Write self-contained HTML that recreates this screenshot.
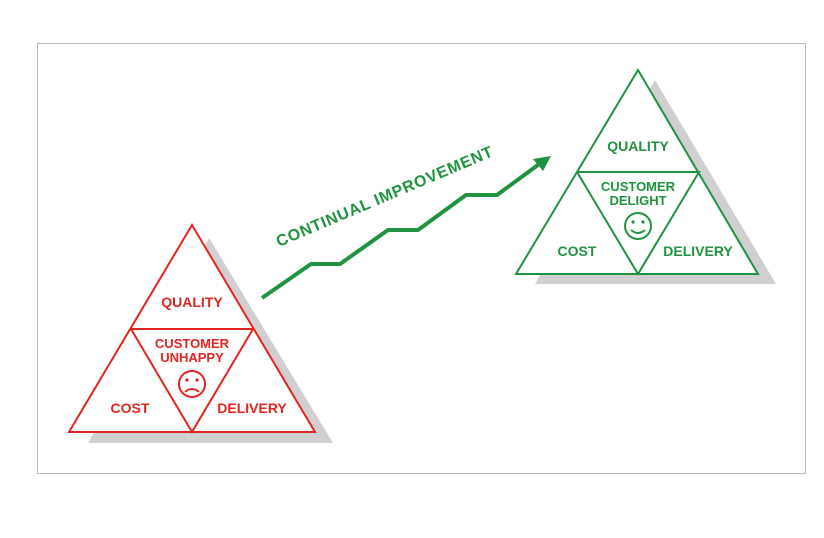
<!DOCTYPE html>
<html><head><style>body{margin:0;background:#fff}</style></head><body>
<svg width="824" height="533" xmlns="http://www.w3.org/2000/svg" font-family="Liberation Sans, sans-serif" font-weight="bold">
<rect x="37.5" y="43.5" width="768" height="430" fill="#fff" stroke="#bbb" stroke-width="1"/>
<polygon points="209,238 333,443 88,443" fill="#d0d0d0"/>
<polygon points="192,225 315,432 69,432" fill="#fff" stroke="#e52420" stroke-width="2"/>
<polyline points="131,329 253,329 192,432 131,329" fill="none" stroke="#e52420" stroke-width="2"/>
<g fill="#e52420" text-anchor="middle" font-size="14">
<text x="192" y="307">QUALITY</text>
<text x="192" y="348" font-size="13">CUSTOMER</text>
<text x="192" y="362" font-size="13">UNHAPPY</text>
<text x="130" y="413">COST</text>
<text x="252" y="413">DELIVERY</text>
</g>
<g stroke="#e52420" stroke-width="2" fill="none"><circle cx="192" cy="384" r="13"/><path d="M185,392 q7,-6 14,0"/></g>
<circle cx="187" cy="380" r="1.6" fill="#e52420"/><circle cx="197" cy="380" r="1.6" fill="#e52420"/>
<polygon points="655,80 776,284 535,284" fill="#d0d0d0"/>
<polygon points="638,70 758,274 516,274" fill="#fff" stroke="#1f9340" stroke-width="2"/>
<polyline points="577,172 699,172 638,274 577,172" fill="none" stroke="#1f9340" stroke-width="2"/>
<g fill="#1f9340" text-anchor="middle" font-size="14">
<text x="638" y="151">QUALITY</text>
<text x="638" y="191" font-size="13">CUSTOMER</text>
<text x="638" y="205" font-size="13">DELIGHT</text>
<text x="577" y="256">COST</text>
<text x="698" y="256">DELIVERY</text>
</g>
<g stroke="#1f9340" stroke-width="2" fill="none"><circle cx="638" cy="226" r="13"/><path d="M631,230 q7,6 14,0"/></g>
<circle cx="633" cy="222" r="1.6" fill="#1f9340"/><circle cx="643" cy="222" r="1.6" fill="#1f9340"/>
<polyline points="262,298 311,264 340,264 388,230 418,230 466,195 497,195 542,162" fill="none" stroke="#1f9340" stroke-width="4"/>
<polygon points="551,156 533,159 543,171" fill="#1f9340"/>
<text x="0" y="0" font-size="16" fill="#1f9340" transform="translate(279,247) rotate(-23)" letter-spacing="0.8">CONTINUAL  IMPROVEMENT</text>
</svg>
</body></html>
